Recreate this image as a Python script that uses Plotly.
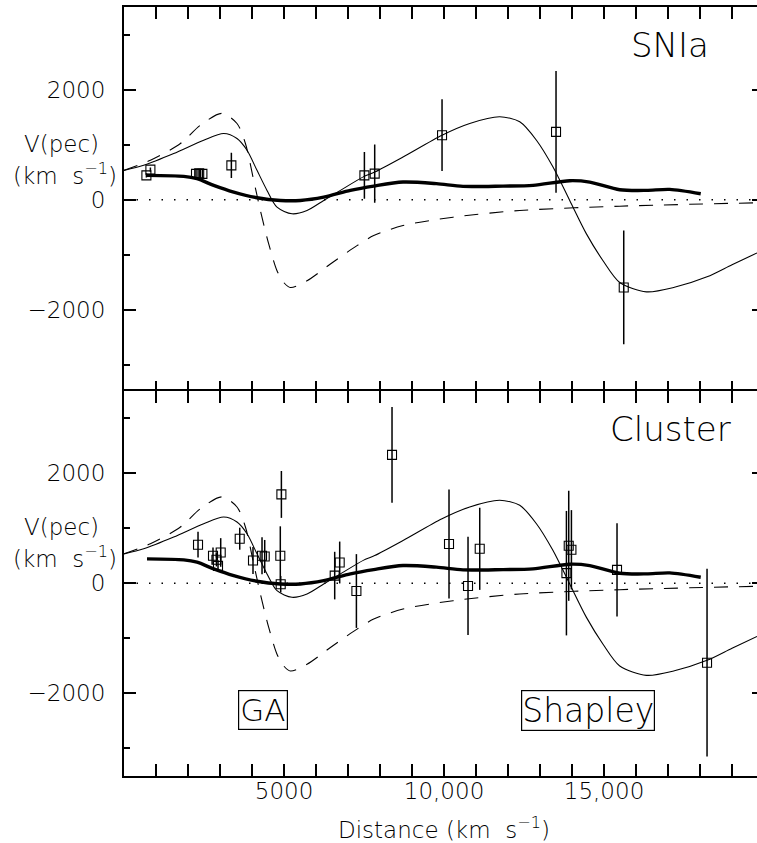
import plotly.graph_objects as go

# ---------------- data ----------------
# model curves (shared by both panels)
thin_x = [0, 615, 1553, 2490, 3115, 3531, 3844, 4156, 4469, 4781, 5250, 5719, 6241, 6762,
          7491, 7834, 8719, 9938, 10803, 11741, 12366, 12888, 13406, 13928, 14450, 14969,
          15491, 16325, 17200, 18219, 19000, 19780]
thin_y = [534, 625, 838, 1081, 1203, 1112, 899, 534, 170, -135, -255, -195, -13, 170,
          420, 503, 777, 1172, 1385, 1506, 1415, 1081, 594, -13, -620, -1107,
          -1502, -1672, -1590, -1400, -1180, -966]

dash_x = [0, 825, 1763, 2388, 3063, 3531, 3794, 4053, 4262, 4522, 4781, 4991, 5200, 5719,
          6450, 7281, 7803, 8719, 10281, 12366, 15491, 19780]
dash_y = [534, 717, 1021, 1355, 1568, 1385, 1021, 352, -195, -802, -1289, -1502, -1593, -1471,
          -1167, -833, -651, -469, -317, -195, -117, -55]

thick_x = [719, 1866, 2281, 2803, 3428, 4156, 4888, 5513, 6241, 7075, 7803, 8719, 9763,
           10594, 11844, 12781, 13928, 14553, 15491, 16325, 17053, 18022]
thick_y = [443, 425, 383, 261, 139, 36, -13, -13, 47, 170, 248, 321, 292,
           242, 248, 261, 346, 321, 182, 170, 188, 109]

# SNIa points
sn_x = [700, 825, 2250, 2350, 2450, 3355, 7512, 7834, 9938, 13500, 15616]
sn_y = [443, 547, 470, 480, 470, 625, 443, 474, 1172, 1233, -1593]
sn_err = [40, 40, 80, 80, 80, 228, 425, 530, 651, 1105, 1033]

# Cluster points
cl_x = [2313, 2781, 2888, 2938, 3022, 3616, 4031, 4313, 4397, 4884, 4918, 4897,
        6584, 6740, 7262, 8375, 10156, 10750, 11116, 13825, 13897, 13981, 15406, 18219]
cl_y = [700, 499, 426, 316, 559, 809, 413, 499, 486, 499, 1613, -18,
        139, 377, -141, 2331, 712, -49, 626, 183, 681, 608, 243, -1443]
cl_err = [234, 150, 120, 100, 260, 200, 244, 335, 300, 535, 426, 150,
          432, 380, 670, 868, 990, 892, 746, 1130, 1000, 720, 845, 1705]

x_tickvals = [5000, 10000, 15000]
x_ticktext = ["5000", "10,000", "15,000"]
y_tickvals = [-2000, 0, 2000]
y_ticktext = ["\u22122000", "0", "2000"]

X_RANGE = [0, 19780]
Y_RANGE = [-3500, 3500]

FONT = "DejaVu Sans"
FW = 200
BLACK = "black"

def f(size):
    return dict(family=FONT, size=size, color=BLACK, weight=FW)

fig = go.Figure()

panels = [("x", "y", "y3", sn_x, sn_y, sn_err), ("x2", "y2", "y4", cl_x, cl_y, cl_err)]
for xa, ya, yr, px, py, pe in panels:
    fig.add_trace(go.Scatter(x=thin_x, y=thin_y, mode="lines", xaxis=xa, yaxis=ya,
                             line=dict(color=BLACK, width=1.1, shape="spline", smoothing=0.8),
                             hoverinfo="skip", showlegend=False))
    fig.add_trace(go.Scatter(x=dash_x, y=dash_y, mode="lines", xaxis=xa, yaxis=ya,
                             line=dict(color=BLACK, width=1.1, shape="spline", smoothing=0.8,
                                       dash="14px,11px"),
                             hoverinfo="skip", showlegend=False))
    fig.add_trace(go.Scatter(x=thick_x, y=thick_y, mode="lines", xaxis=xa, yaxis=ya,
                             line=dict(color=BLACK, width=3.4, shape="spline", smoothing=0.8),
                             hoverinfo="skip", showlegend=False))
    fig.add_trace(go.Scatter(x=px, y=py, mode="markers", xaxis=xa, yaxis=ya,
                             marker=dict(symbol="square-open", size=9, color=BLACK,
                                         line=dict(width=1.1, color=BLACK)),
                             error_y=dict(type="data", array=pe, visible=True, width=0,
                                          thickness=1.5, color=BLACK),
                             showlegend=False))
    # empty trace so the right-hand tick stubs axis is drawn
    fig.add_trace(go.Scatter(x=[], y=[], xaxis=xa, yaxis=yr, mode="lines",
                             showlegend=False, hoverinfo="skip"))
    # dotted zero line
    fig.add_shape(type="line", xref=f"{xa} domain", x0=0, x1=1, yref=ya, y0=0, y1=0,
                  line=dict(color=BLACK, width=1.3, dash="1.5px,11px"))

xcommon = dict(range=X_RANGE, showgrid=False, zeroline=False, showline=True, linecolor=BLACK,
               linewidth=2, mirror="allticks", ticks="inside", ticklen=12, tickwidth=1.5,
               tickcolor=BLACK, tickvals=x_tickvals, ticktext=x_ticktext,
               minor=dict(ticks="inside", ticklen=6, tickwidth=1.5, tickcolor=BLACK,
                          dtick=1000, tick0=0, showgrid=False),
               tickfont=f(23))
ycommon = dict(range=Y_RANGE, showgrid=False, zeroline=False, showline=True, linecolor=BLACK,
               linewidth=2, mirror=False, ticks="inside", ticklen=12, tickwidth=1.5,
               tickcolor=BLACK, tickvals=y_tickvals, ticktext=y_ticktext,
               minor=dict(ticks="inside", ticklen=6, tickwidth=1.5, tickcolor=BLACK,
                          dtick=1000, tick0=0, showgrid=False),
               tickfont=f(23), ticklabelstandoff=12)
yright = dict(range=Y_RANGE, showgrid=False, zeroline=False, showline=False, side="right",
              ticks="inside", ticklen=5, tickwidth=1.5, tickcolor=BLACK, tickvals=y_tickvals,
              showticklabels=False)

GAP = 2.0 / 769  # lets the two frame lines at the panel join coincide
fig.update_layout(
    width=757, height=843,
    margin=dict(l=124, r=0, t=7, b=67),
    paper_bgcolor="white", plot_bgcolor="white",
    xaxis=dict(**xcommon, anchor="y", showticklabels=False),
    yaxis=dict(**ycommon, domain=[0.5 - GAP / 2, 1], anchor="x"),
    xaxis2=dict(**xcommon, anchor="y2", showticklabels=True, ticklabelstandoff=-7),
    yaxis2=dict(**ycommon, domain=[0, 0.5 + GAP / 2], anchor="x2"),
    yaxis3=dict(**yright, overlaying="y", anchor="x"),
    yaxis4=dict(**yright, overlaying="y2", anchor="x2"),
    showlegend=False,
)

annotations = []
for xa, ya in [("x", "y"), ("x2", "y2")]:
    annotations.append(dict(text="V(pec)", xref="paper", x=-0.0995, xanchor="center",
                            yref=ya, y=1020, yanchor="middle", showarrow=False, font=f(23)))
    annotations.append(dict(text="(km  s<sup>\u22121</sup>)", xref="paper", x=-0.093,
                            xanchor="center", yref=ya, y=470, yanchor="middle",
                            showarrow=False, font=f(23)))
annotations += [
    dict(text="SNIa", xref="x", x=17053, yref="y", y=2813, xanchor="center", yanchor="middle",
         showarrow=False, font=f(34)),
    dict(text="Cluster", xref="x2", x=17080, yref="y2", y=2810, xanchor="center",
         yanchor="middle", showarrow=False, font=f(34)),
    dict(text="GA", xref="x2", x=4350, yref="y2", y=-2305, xanchor="center", yanchor="middle",
         showarrow=False, font=f(31),
         bordercolor=BLACK, borderwidth=1.2, borderpad=1),
    dict(text="Shapley", xref="x2", x=14506, yref="y2", y=-2305, xanchor="center",
         yanchor="middle", showarrow=False, font=f(33),
         bordercolor=BLACK, borderwidth=1.2, borderpad=0),
    dict(text="Distance (km  s<sup>\u22121</sup>)", xref="x2", x=10000, yref="paper", y=0,
         yanchor="top", yshift=-35, xanchor="center", showarrow=False, font=f(23)),
]
fig.update_layout(annotations=annotations)

fig.write_html(
    "out.html",
    config={"displayModeBar": False},
    post_script="document.body.style.margin='0px';document.body.style.overflow='hidden';",
)
